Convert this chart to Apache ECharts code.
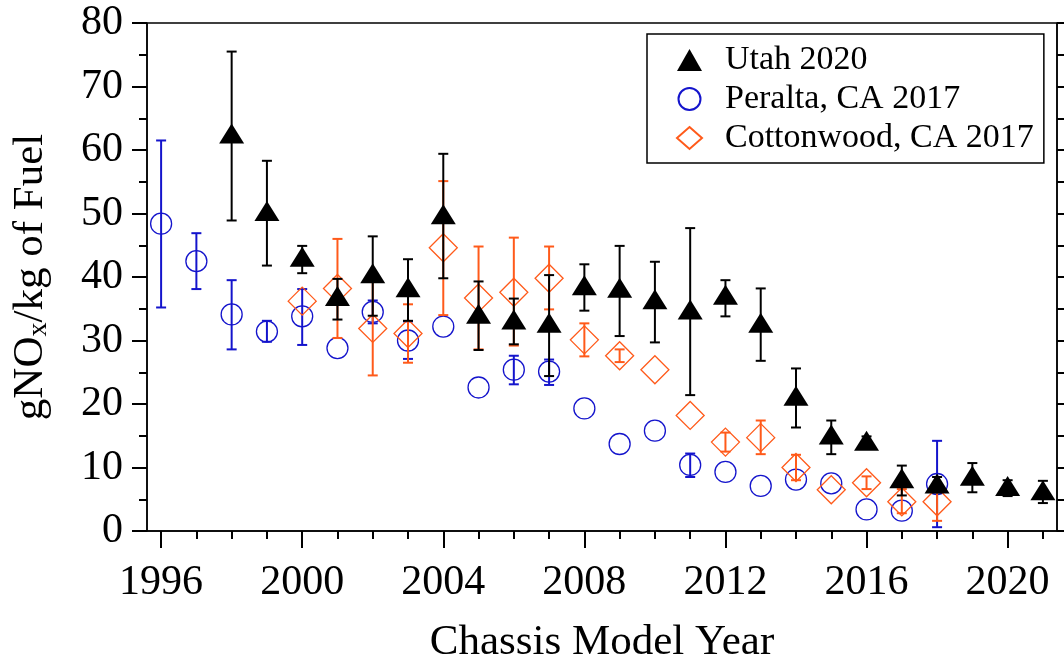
<!DOCTYPE html>
<html>
<head>
<meta charset="utf-8">
<script src="https://cdn.jsdelivr.net/npm/echarts@6/dist/echarts.min.js"></script>
<style>
  html, body { margin: 0; padding: 0; background: #fff; }
  #chart { width: 1064px; height: 669px; }
</style>
</head>
<body>
<div id="chart"></div>
<script>
// model years
const utahYears = [1998, 1999, 2000, 2001, 2002, 2003, 2004, 2005, 2006, 2007, 2008, 2009,
  2010, 2011, 2012, 2013, 2014, 2015, 2016, 2017, 2018, 2019, 2020, 2021]
const utahVal = [62.6, 50.4, 43.2, 37.0, 40.6, 38.4, 49.9, 34.2, 33.3, 32.8, 38.7, 38.3,
  36.5, 34.9, 37.2, 32.8, 21.3, 15.2, 14.2, 8.3, 7.5, 8.7, 7.1, 6.4]
const utahLo = [48.9, 41.8, 40.6, 33.3, 33.9, 33.1, 39.8, 28.5, 29.4, 24.4, 34.7, 30.7,
  29.7, 21.4, 33.8, 26.8, 16.3, 12.1, 13.6, 5.6, 6.1, 6.1, 5.5, 4.4]
const utahHi = [75.5, 58.3, 44.9, 39.7, 46.4, 42.8, 59.4, 39.3, 36.6, 40.3, 42.0, 44.9,
  42.4, 47.7, 39.5, 38.2, 25.6, 17.4, 14.9, 10.3, 8.5, 10.7, 8.0, 7.9]

const peraltaYears = [1996, 1997, 1998, 1999, 2000, 2001, 2002, 2003, 2004, 2005, 2006, 2007,
  2008, 2009, 2010, 2011, 2012, 2013, 2014, 2015, 2016, 2017, 2018]
const peraltaVal = [48.4, 42.5, 34.1, 31.4, 33.8, 28.8, 34.5, 30.0, 32.2, 22.6, 25.4, 25.1,
  19.3, 13.7, 15.8, 10.4, 9.3, 7.1, 8.1, 7.5, 3.4, 3.2, 7.4]
const peraltaLo = [35.2, 38.1, 28.6, 29.8, 29.3, null, 32.7, 27.1, null, null, 23.1, 23.0,
  null, null, null, 8.5, null, null, null, null, null, null, 0.6]
const peraltaHi = [61.5, 46.9, 39.5, 33.1, 38.1, null, 36.3, 33.0, null, null, 27.6, 27.0,
  null, null, null, 12.2, null, null, null, null, null, null, 14.2]

const cottonYears = [2000, 2001, 2002, 2003, 2004, 2005, 2006, 2007, 2008, 2009,
  2010, 2011, 2012, 2013, 2014, 2015, 2016, 2017, 2018]
const cottonVal = [36.2, 38.2, 31.9, 31.1, 44.6, 36.7, 37.6, 39.8, 30.1, 27.6,
  25.4, 18.2, 14.0, 14.7, 10.0, 6.5, 7.6, 4.6, 4.6]
const cottonLo = [null, 30.4, 24.5, 26.5, 34.0, 28.6, 29.2, 34.9, 27.5, 26.6,
  null, null, 12.5, 12.1, 8.0, null, 6.6, 2.8, 1.6]
const cottonHi = [null, 46.0, 39.3, 35.7, 55.1, 44.8, 46.2, 44.8, 32.7, 28.6,
  null, null, 15.5, 17.4, 12.0, null, 8.6, 6.6, 7.6]

const majorYears = [1996, 2000, 2004, 2008, 2012, 2016, 2020]
const minorYears = []
for (let y = 1996; y <= 2021; y++) minorYears.push(y)

const FONT = 'Liberation Serif'
const BLUE = '#1414cc'
const ORANGE = '#ff5a1a'

const pts = (years, vals) => years.map((y, i) => [y, vals[i]])

function errSeries(color, years, lo, hi, z) {
  const data = []
  years.forEach((y, i) => {
    if (lo[i] != null) data.push([y, lo[i], hi[i]])
  })
  return {
    type: 'custom',
    silent: true,
    z: z,
    data: data,
    encode: { x: 0, y: [1, 2] },
    renderItem(params, api) {
      const b = api.coord([api.value(0), api.value(1)])
      const t = api.coord([api.value(0), api.value(2)])
      const w = 5
      const style = { stroke: color, lineWidth: 2, fill: null }
      return {
        type: 'group',
        children: [
          { type: 'line', shape: { x1: b[0], y1: b[1], x2: t[0], y2: t[1] }, style },
          { type: 'line', shape: { x1: b[0] - w, y1: b[1], x2: b[0] + w, y2: b[1] }, style },
          { type: 'line', shape: { x1: t[0] - w, y1: t[1], x2: t[0] + w, y2: t[1] }, style }
        ]
      }
    }
  }
}

const chart = echarts.init(document.getElementById('chart'))

const option = {
  animation: false,
  textStyle: { fontFamily: FONT },
  grid: {
    left: 147, right: 7, top: 23, bottom: 131,
    show: true, borderColor: '#000', borderWidth: 1.5, backgroundColor: 'transparent'
  },
  legend: {
    orient: 'vertical',
    left: 647, top: 34,
    padding: [9, 10, 8, 29],
    itemGap: 5,
    itemWidth: 25, itemHeight: 22,
    borderColor: '#000', borderWidth: 1.5,
    textStyle: { fontFamily: FONT, fontSize: 34, color: '#000', padding: [0, 0, 0, 18] },
    data: ['Utah 2020', 'Peralta, CA 2017', 'Cottonwood, CA 2017']
  },
  xAxis: [
    {
      type: 'value', min: 1995.6, max: 2021.4,
      name: 'Chassis Model Year', nameLocation: 'middle', nameGap: 90,
      nameTextStyle: { fontFamily: FONT, fontSize: 43, color: '#000' },
      axisLine: { lineStyle: { color: '#000', width: 1.5 } },
      axisTick: { customValues: majorYears, length: 17, lineStyle: { color: '#000', width: 2 } },
      axisLabel: {
        customValues: majorYears, fontSize: 42, color: '#000', margin: 31, fontFamily: FONT,
        formatter: v => String(v)
      },
      splitLine: { show: false }
    },
    {
      type: 'value', min: 1995.6, max: 2021.4, position: 'bottom',
      axisLine: { show: false },
      axisTick: { customValues: minorYears, length: 8, lineStyle: { color: '#000', width: 2 } },
      axisLabel: { show: false },
      splitLine: { show: false }
    }
  ],
  yAxis: [
    {
      type: 'value', min: 0, max: 80, interval: 10,
      name: '{a|gNO}{s|x}{a|/kg of Fuel}', nameLocation: 'middle', nameGap: 94,
      nameTextStyle: {
        color: '#000',
        fontStyle: 'normal',
        rich: {
          a: { fontFamily: FONT, fontSize: 43, fontStyle: 'normal', color: '#000' },
          s: { fontFamily: FONT, fontSize: 28, fontStyle: 'normal', color: '#000', padding: [16, 0, 0, 0] }
        }
      },
      axisLine: { show: true, lineStyle: { color: '#000', width: 1.5 } },
      axisTick: { length: 15, lineStyle: { color: '#000', width: 2 } },
      minorTick: { show: true, splitNumber: 2, length: 8, lineStyle: { color: '#000', width: 2 } },
      axisLabel: { fontSize: 42, color: '#000', margin: 24, fontFamily: FONT },
      splitLine: { show: false }
    },
    {
      type: 'value', min: 0, max: 80, interval: 5, position: 'right',
      axisLine: { show: true, lineStyle: { color: '#000', width: 1.5 } },
      axisTick: { length: 10, lineStyle: { color: '#000', width: 2 } },
      axisLabel: { show: false },
      splitLine: { show: false }
    }
  ],
  series: [
    errSeries(BLUE, peraltaYears, peraltaLo, peraltaHi, 2),
    {
      name: 'Peralta, CA 2017', type: 'scatter', z: 3,
      symbol: 'circle', symbolSize: 21,
      itemStyle: { color: 'rgba(0,0,0,0)', borderColor: BLUE, borderWidth: 1.3, opacity: 1 },
      data: pts(peraltaYears, peraltaVal)
    },
    errSeries(ORANGE, cottonYears, cottonLo, cottonHi, 4),
    {
      name: 'Cottonwood, CA 2017', type: 'scatter', z: 5,
      symbol: 'diamond', symbolSize: 28,
      itemStyle: { color: 'rgba(0,0,0,0)', borderColor: ORANGE, borderWidth: 1.3, opacity: 1 },
      data: pts(cottonYears, cottonVal)
    },
    errSeries('#000', utahYears, utahLo, utahHi, 6),
    {
      name: 'Utah 2020', type: 'scatter', z: 7,
      symbol: 'triangle', symbolSize: [25, 20],
      itemStyle: { color: '#000', opacity: 1 },
      data: pts(utahYears, utahVal)
    }
  ]
}

chart.setOption(option)
</script>
</body>
</html>
